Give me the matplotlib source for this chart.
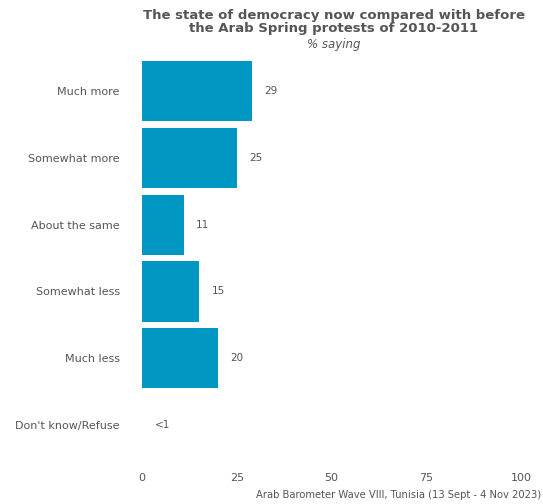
import matplotlib.pyplot as plt
import numpy as np

plt.rcParams['font.family'] = ['DejaVu Sans']

# data
categories = ['Much more', 'Somewhat more', 'About the same', 'Somewhat less',
              'Much less', "Don't know/Refuse"]
values = [29, 25, 11, 15, 20, 0.3]
labels = ['29', '25', '11', '15', '20', '<1']
xticks = [0, 25, 50, 75, 100]

bar_col = '#0098c3'
txt_col = '#555555'

fig = plt.figure(figsize=(5.43, 5.04), dpi=100)
ax = fig.add_axes([0.2615, 0.0774, 0.698, 0.821])

y = np.arange(len(categories))
# the refuse bar is too small to see in the reference
ax.barh(y[:-1], values[:-1], height=0.9, color=bar_col)
for yi, v, lab in zip(y, values, labels):
    x0 = 0 if lab == '<1' else v
    ax.annotate(lab, (x0, yi), xytext=(9, 0), textcoords='offset points',
                ha='left', va='center', fontsize=7.5, color=txt_col)

ax.set_xlim(0, 100)
ax.set_ylim(len(categories) - 1 + 0.6, -0.6)
ax.set_yticks(y)
ax.set_yticklabels(categories)
ax.set_xticks(xticks)
ax.tick_params(length=0, labelsize=8, colors=txt_col)
ax.tick_params(axis='y', pad=16)
ax.tick_params(axis='x', pad=6)
for s in ax.spines.values():
    s.set_visible(False)

fig.text(0.615, 0.983, 'The state of democracy now compared with before\nthe Arab Spring protests of 2010-2011',
         ha='center', va='top', fontsize=9.5, fontweight='bold', color=txt_col,
         linespacing=1.0)
fig.text(0.615, 0.911, '% saying', ha='center', va='center', fontsize=8.5,
         style='italic', color=txt_col)
fig.text(0.997, 0.017, 'Arab Barometer Wave VIII, Tunisia (13 Sept - 4 Nov 2023)',
         ha='right', va='center', fontsize=7.2, color=txt_col)

fig.savefig('out.png', dpi=100)
